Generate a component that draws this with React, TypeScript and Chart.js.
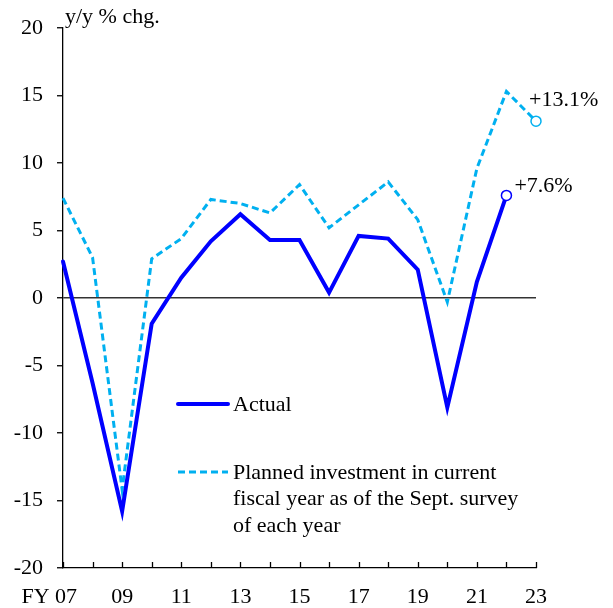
import React, { useEffect, useRef } from 'react';
import { Chart, registerables } from 'chart.js';

Chart.register(...registerables);

const years = ['07', '08', '09', '10', '11', '12', '13', '14', '15', '16', '17', '18', '19', '20', '21', '22', '23'];
const xTickLabels = ['FY 07     ', '', '09', '', '11', '', '13', '', '15', '', '17', '', '19', '', '21', '', '23'];
const actual = [2.7, -6.3, -15.8, -1.9, 1.5, 4.2, 6.2, 4.3, 4.3, 0.4, 4.6, 4.4, 2.1, -8.1, 1.2, 7.6, null];
const planned = [7.4, 3.0, -14.2, 2.9, 4.4, 7.3, 7.0, 6.3, 8.4, 5.2, 6.9, 8.6, 5.8, -0.3, 9.6, 15.3, 13.1];
const yMin = -20;
const yMax = 20;
const yStep = 5;
const yTitle = 'y/y % chg.';
const legendActual = 'Actual';
const legendPlanned = ['Planned investment in current', 'fiscal year as of the Sept. survey', 'of each year'];
const annotActual = '+7.6%';
const annotPlanned = '+13.1%';

const ACTUAL_COLOR = '#0000FF';
const PLANNED_COLOR = '#00B0F0';
const FONT = '"Liberation Serif", "Times New Roman", serif';

const overlay = {
  id: 'overlay',
  afterDraw(chart: any) {
    const { ctx, chartArea } = chart;
    const x = chart.scales.x;
    const y = chart.scales.y;
    ctx.save();
    // inward x ticks
    ctx.strokeStyle = '#000';
    ctx.lineWidth = 1.3;
    for (let i = 0; i < years.length; i++) {
      const px = Math.round(x.getPixelForValue(i)) + 0.5;
      ctx.beginPath();
      ctx.moveTo(px, chartArea.bottom);
      ctx.lineTo(px, chartArea.bottom - 6);
      ctx.stroke();
    }
    ctx.fillStyle = '#000';
    ctx.textAlign = 'left';
    ctx.textBaseline = 'alphabetic';
    ctx.font = '22px ' + FONT;
    ctx.fillText(yTitle, chartArea.left + 2, 23);

    // annotations
    const iLastA = 15;
    const iLastP = 16;
    const ax = x.getPixelForValue(iLastA);
    const ay = y.getPixelForValue(actual[iLastA] as number);
    ctx.fillText(annotActual, ax + 8, ay - 3);
    const px2 = x.getPixelForValue(iLastP);
    const py2 = y.getPixelForValue(planned[iLastP]);
    ctx.fillText(annotPlanned, px2 - 7, py2 - 15);

    // legend
    const lx0 = chartArea.left + 115;
    const lx1 = lx0 + 50;
    const ly1 = 404;
    ctx.lineCap = 'round';
    ctx.strokeStyle = ACTUAL_COLOR;
    ctx.lineWidth = 4;
    ctx.beginPath();
    ctx.moveTo(lx0, ly1);
    ctx.lineTo(lx1, ly1);
    ctx.stroke();
    ctx.lineCap = 'butt';
    ctx.strokeStyle = PLANNED_COLOR;
    ctx.lineWidth = 3;
    ctx.setLineDash([7, 4]);
    const ly2 = 472;
    ctx.beginPath();
    ctx.moveTo(lx0, ly2);
    ctx.lineTo(lx1, ly2);
    ctx.stroke();
    ctx.setLineDash([]);
    ctx.textBaseline = 'middle';
    ctx.fillText(legendActual, lx1 + 5, ly1 + 1);
    legendPlanned.forEach((t, i) => {
      ctx.fillText(t, lx1 + 5, ly2 + 1 + i * 26.5);
    });
    ctx.restore();
  },
};

export default function App() {
  const ref = useRef<HTMLCanvasElement>(null);
  useEffect(() => {
    if (!ref.current) return;
    const chart = new Chart(ref.current, {
      type: 'line',
      data: {
        labels: years,
        datasets: [
          {
            label: legendActual,
            data: actual,
            borderColor: ACTUAL_COLOR,
            backgroundColor: '#fff',
            borderWidth: 4,
            tension: 0,
            pointRadius: actual.map((_, i) => (i === 15 ? 5 : 0)),
            pointBorderWidth: 1.5,
            pointBorderColor: ACTUAL_COLOR,
            pointBackgroundColor: '#fff',
            borderCapStyle: 'round',
            borderJoinStyle: 'miter',
            spanGaps: false,
            clip: false,
          },
          {
            label: legendPlanned.join(' '),
            data: planned,
            borderColor: PLANNED_COLOR,
            backgroundColor: '#fff',
            borderWidth: 3,
            borderDash: [7, 4],
            tension: 0,
            pointRadius: planned.map((_, i) => (i === 16 ? 5 : 0)),
            pointBorderWidth: 1.5,
            pointBorderColor: PLANNED_COLOR,
            pointBackgroundColor: '#fff',
            clip: false,
          },
        ],
      },
      options: {
        responsive: false,
        animation: false,
        devicePixelRatio: 1,
        layout: { padding: { top: 28, right: 77, left: 0, bottom: 0 } },
        plugins: { legend: { display: false }, tooltip: { enabled: false }, title: { display: false } },
        scales: {
          x: {
            type: 'category',
            offset: false,
            grid: { display: false, drawTicks: false },
            border: { display: true, color: '#000', width: 1.3 },
            ticks: {
              autoSkip: false,
              maxRotation: 0,
              padding: 16,
              color: '#000',
              font: { family: FONT, size: 22 },
              callback: (_v: any, i: number) => xTickLabels[i],
            },
            afterFit: (s: any) => {
              s.height = 40;
            },
          },
          y: {
            min: yMin,
            max: yMax,
            grid: {
              drawOnChartArea: true,
              drawTicks: true,
              tickLength: 6,
              tickColor: '#000',
              tickWidth: 1.3,
              color: (c: any) => (c.tick && c.tick.value === 0 ? '#333' : 'rgba(0,0,0,0)'),
              lineWidth: 1.5,
            },
            border: { display: true, color: '#000', width: 1.3 },
            ticks: {
              stepSize: yStep,
              padding: 14,
              color: '#000',
              font: { family: FONT, size: 22 },
            },
            afterFit: (s: any) => {
              s.width = 63;
            },
          },
        },
      },
      plugins: [overlay],
    });
    return () => chart.destroy();
  }, []);
  return (
    <div style={{ position: 'absolute', left: 0, top: 0, width: 613, height: 608, background: '#fff' }}>
      <canvas ref={ref} width={613} height={608} style={{ display: 'block' }} />
    </div>
  );
}
